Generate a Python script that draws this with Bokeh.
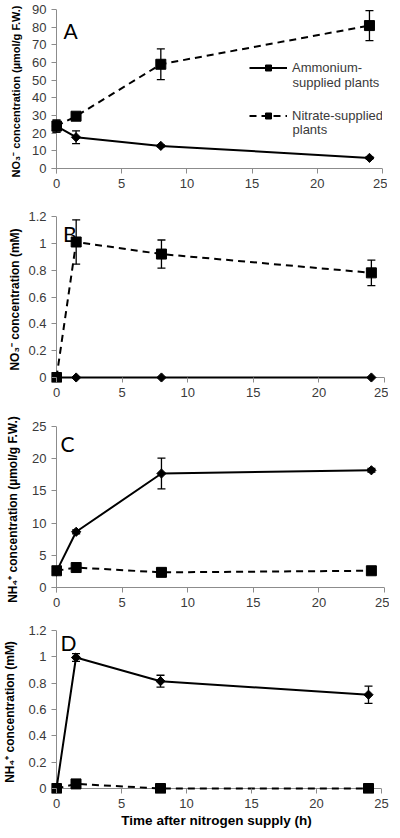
from bokeh.plotting import figure
from bokeh.layouts import column
from bokeh.models import (ColumnDataSource, Whisker, TeeHead, Range1d, FixedTicker,
                          NumeralTickFormatter, Legend, LegendItem, Label, Span)
from bokeh.embed import file_html
from bokeh.resources import INLINE

# ---------------- data ----------------
time_h = [0, 1.5, 8, 24]

# Panel A: NO3- (umol/g F.W.)
a_amm = [24, 17.7, 12.8, 6.0]
a_amm_err = [3.4, 3.6, 0.6, 0.5]
a_nit = [24, 29.6, 59.0, 80.9]
a_nit_err = [3.4, 1.0, 8.7, 8.5]

# Panel B: NO3- (mM)
b_amm = [0, 0, 0, 0]
b_amm_err = [0, 0, 0, 0]
b_nit = [0, 1.01, 0.92, 0.78]
b_nit_err = [0, 0.165, 0.105, 0.095]

# Panel C: NH4+ (umol/g F.W.)
c_amm = [2.5, 8.65, 17.7, 18.2]
c_amm_err = [0.2, 0.3, 2.4, 0.3]
c_nit = [2.6, 3.1, 2.35, 2.6]
c_nit_err = [0.1, 0.1, 0.1, 0.1]

# Panel D: NH4+ (mM)
d_amm = [0, 0.995, 0.815, 0.712]
d_amm_err = [0, 0.03, 0.045, 0.065]
d_nit = [0, 0.035, 0, 0]
d_nit_err = [0, 0.005, 0, 0]

x_ticks = [0, 5, 10, 15, 20, 25]
series_labels = ["Ammonium-", "supplied plants", "Nitrate-supplied", "plants"]

# layout (pixels): figure height, axis box left/width/top/height inside the figure
panels = [
    dict(letter="A", amm=a_amm, amm_err=a_amm_err, nit=a_nit, nit_err=a_nit_err,
         ymax=90, yticks=[0, 10, 20, 30, 40, 50, 60, 70, 80, 90],
         ylabel="NO\u2083\u207b concentration (\u00b5mol/g F.W.)", lab_size="11px",
         H=205, ax_left=46, ax_w=326, ax_top=9, ax_h=159, lab_so=7,
         letter_xy=(0.54, 78.1)),
    dict(letter="B", amm=b_amm, amm_err=b_amm_err, nit=b_nit, nit_err=b_nit_err,
         ymax=1.2, yticks=[0, 0.2, 0.4, 0.6, 0.8, 1.0, 1.2],
         ylabel="NO\u2083\u207b concentration (mM)", lab_size="12px",
         H=205, ax_left=47, ax_w=328, ax_top=11, ax_h=161, lab_so=3,
         letter_xy=(0.50, 1.073)),
    dict(letter="C", amm=c_amm, amm_err=c_amm_err, nit=c_nit, nit_err=c_nit_err,
         ymax=25, yticks=[0, 5, 10, 15, 20, 25],
         ylabel="NH\u2084\u207a concentration (\u00b5mol/g F.W.)", lab_size="12px",
         H=205, ax_left=48, ax_w=328, ax_top=16, ax_h=161, lab_so=9,
         letter_xy=(0.30, 22.36)),
    dict(letter="D", amm=d_amm, amm_err=d_amm_err, nit=d_nit, nit_err=d_nit_err,
         ymax=1.2, yticks=[0, 0.2, 0.4, 0.6, 0.8, 1.0, 1.2],
         ylabel="NH\u2084\u207a concentration (mM)", lab_size="12px",
         H=215, ax_left=51, ax_w=325, ax_top=15, ax_h=158, lab_so=8,
         letter_xy=(0.31, 1.109)),
]

W = 384
PAD = 5  # extra frame room left/below the axes so edge markers are not clipped
TICK_FONT = "Liberation Sans"
AXIS_GRAY = "#8c8c8c"
TEXT_COLOR = "#3a3a3a"

figs = []
for i, pn in enumerate(panels):
    fw = pn["ax_w"] + PAD
    fh = pn["ax_h"] + PAD
    left = pn["ax_left"] - PAD
    right = W - pn["ax_left"] - pn["ax_w"]
    bottom = pn["H"] - pn["ax_top"] - pn["ax_h"] - PAD
    x0 = -PAD * 25.0 / pn["ax_w"]
    y0 = -PAD * pn["ymax"] / pn["ax_h"]

    p = figure(frame_width=fw, frame_height=fh,
               x_range=Range1d(x0, 25), y_range=Range1d(y0, pn["ymax"]),
               output_backend="svg", toolbar_location=None,
               min_border_left=left, min_border_right=right,
               min_border_top=pn["ax_top"], min_border_bottom=bottom)
    p.outline_line_color = None
    p.grid.visible = False
    p.background_fill_color = "white"
    p.border_fill_color = "white"

    for ax in (p.xaxis[0], p.yaxis[0]):
        ax.axis_line_color = None
        ax.major_tick_line_color = AXIS_GRAY
        ax.minor_tick_line_color = None
        ax.major_tick_out = 0
        ax.major_tick_in = PAD
        ax.major_label_text_font = TICK_FONT
        ax.major_label_text_font_size = "13px"
        ax.major_label_text_color = TEXT_COLOR
        ax.axis_label_text_font = TICK_FONT
        ax.axis_label_text_font_style = "bold"
        ax.axis_label_text_color = "#000000"

    # visible axis lines at the data origin
    p.add_layout(Span(location=0, dimension="height", line_color=AXIS_GRAY,
                      line_width=1, level="underlay"))
    p.add_layout(Span(location=0, dimension="width", line_color=AXIS_GRAY,
                      line_width=1, level="underlay"))

    p.xaxis.ticker = FixedTicker(ticks=x_ticks)
    p.xaxis.major_label_standoff = 5
    p.yaxis.ticker = FixedTicker(ticks=pn["yticks"])
    p.yaxis.formatter = NumeralTickFormatter(format="0.[0]")
    p.yaxis.major_label_standoff = 5
    p.yaxis.axis_label = pn["ylabel"]
    p.yaxis.axis_label_text_font_size = pn["lab_size"]
    p.yaxis.axis_label_standoff = pn["lab_so"]
    if i == 3:
        p.xaxis.axis_label = "Time after nitrogen supply (h)"
        p.xaxis.axis_label_text_font_size = "13.5px"
        p.xaxis.axis_label_standoff = 2

    def err_source(vals, errs):
        xs = [t for t, e in zip(time_h, errs) if e > 0]
        lo = [v - e for v, e in zip(vals, errs) if e > 0]
        hi = [v + e for v, e in zip(vals, errs) if e > 0]
        return ColumnDataSource(dict(x=xs, lo=lo, hi=hi))

    for vals, errs in ((pn["nit"], pn["nit_err"]), (pn["amm"], pn["amm_err"])):
        w = Whisker(source=err_source(vals, errs), base="x", lower="lo", upper="hi",
                    line_color="black", line_width=1.3,
                    upper_head=TeeHead(size=8, line_color="black", line_width=1.3),
                    lower_head=TeeHead(size=8, line_color="black", line_width=1.3))
        p.add_layout(w)

    src_n = ColumnDataSource(dict(x=time_h, y=pn["nit"]))
    src_a = ColumnDataSource(dict(x=time_h, y=pn["amm"]))
    ln = p.line("x", "y", source=src_n, line_color="black", line_width=2, line_dash="7 5")
    mn = p.scatter("x", "y", source=src_n, marker="square", size=10, color="black")
    la = p.line("x", "y", source=src_a, line_color="black", line_width=2)
    ma = p.scatter("x", "y", source=src_a, marker="square", angle=0.785398, size=6.5,
                   color="black")

    lx, ly = pn["letter_xy"]
    p.add_layout(Label(x=lx, y=ly, text=pn["letter"], text_font="Lato",
                       text_font_size="21px", text_color="black",
                       text_baseline="alphabetic", text_align="left"))

    if i == 0:
        leg = Legend(items=[
            LegendItem(label=series_labels[0], renderers=[la, ma]),
            LegendItem(label=series_labels[2], renderers=[ln, mn]),
        ], location=(198, 50), orientation="vertical",
            background_fill_alpha=0, border_line_color=None,
            label_text_font=TICK_FONT, label_text_font_size="13px",
            label_text_color=TEXT_COLOR, glyph_width=38, glyph_height=15,
            label_height=15, label_standoff=5, spacing=33, padding=0, margin=0)
        p.add_layout(leg)
        for txt, yy in ((series_labels[1], 48.7), (series_labels[3], 22.1)):
            p.add_layout(Label(x=18.1, y=yy, text=txt, text_font=TICK_FONT,
                               text_font_size="13px", text_color=TEXT_COLOR,
                               text_baseline="middle", text_align="left"))

    figs.append(p)

layout = column(*figs, spacing=0)
open("out.html", "w").write(file_html(layout, INLINE))
